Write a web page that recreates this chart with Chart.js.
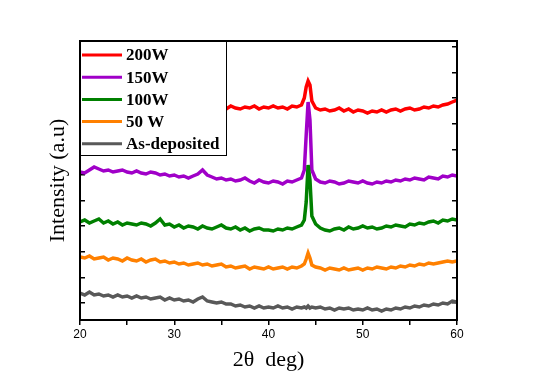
<!DOCTYPE html>
<html>
<head>
<meta charset="utf-8">
<script src="https://cdn.jsdelivr.net/npm/chart.js@4.4.0/dist/chart.umd.min.js"></script>
<style>
  html, body { margin: 0; padding: 0; background: #ffffff; }
  #wrap { width: 533px; height: 375px; position: relative; }
</style>
</head>
<body>
<div id="wrap"><canvas id="c" width="533" height="375"></canvas></div>
<script>
// 2θ positions (deg)
const twoTheta = [
  20.0,20.5,21.0,21.5,22.0,22.5,23.0,23.5,24.0,24.5,25.0,25.5,26.0,26.5,27.0,27.5,
  28.0,28.5,29.0,29.5,30.0,30.5,31.0,31.5,32.0,32.5,33.0,33.5,34.0,34.5,35.0,35.5,
  36.0,36.5,37.0,37.5,38.0,38.5,39.0,39.5,40.0,40.5,41.0,41.5,42.0,42.5,43.0,43.5,
  43.8,44.0,44.2,44.4,44.6,
  45.0,45.5,46.0,46.5,47.0,47.5,48.0,48.5,49.0,49.5,50.0,50.5,51.0,51.5,52.0,52.5,
  53.0,53.5,54.0,54.5,55.0,55.5,56.0,56.5,57.0,57.5,58.0,58.5,59.0,59.5,60.0
];

const seriesLabels = ['200W', '150W', '100W', '50 W', 'As-deposited'];

// Intensity (a.u, stacked offsets)
const w200 = [
  214,215,213,215,214,212,215,213,214,212,213,215,212,214,213,211,
  214,212,213,211,212,214,211,213,212,211,213,211,212,214,213,211,
  214,212,211,213,212,214,211,213,212,214,212,213,211,214,213,215,
  222,233,239,235,219,
  212,210,211,209,210,212,209,211,208,210,209,207,209,208,210,208,
  210,211,209,211,212,210,211,213,212,214,213,215,216,218,220
];
const w150 = [
  148,147,150,153,151,149,150,148,149,150,148,147,149,147,146,148,
  147,145,146,144,145,143,144,142,144,146,150,145,143,141,142,140,
  141,139,140,142,139,137,140,138,137,139,138,136,139,138,140,142,
  150,185,218,200,150,
  141,138,137,139,138,136,137,139,138,137,139,137,136,138,137,139,
  138,140,139,141,140,142,141,140,143,142,141,144,143,145,144
];
const w100 = [
  98,100,97,99,101,97,99,96,98,95,97,96,95,97,96,94,
  97,101,95,96,93,95,92,94,93,91,94,92,91,93,95,92,
  91,93,90,92,89,91,92,90,90,89,91,90,92,91,93,95,
  100,118,155,140,104,
  96,92,90,89,91,92,90,93,91,92,94,92,93,91,92,94,
  93,95,94,93,96,95,97,96,98,99,97,100,99,101,100
];
const w50 = [
  63,62,64,61,62,63,60,62,61,59,62,60,59,61,58,60,
  61,58,59,57,58,56,57,55,56,57,55,56,54,55,56,53,
  54,52,53,54,51,53,52,51,53,51,52,53,51,53,52,54,
  56,61,67,62,55,
  53,52,50,52,51,50,52,50,51,52,50,52,51,53,52,51,
  53,52,54,53,55,54,56,55,57,56,57,58,59,58,59
];
const asDep = [
  27,25,28,25,26,24,25,23,25,23,24,22,24,22,23,21,
  22,23,20,22,20,21,19,20,18,21,23,19,18,17,18,16,
  16,14,15,13,14,12,14,12,13,12,14,12,13,11,13,12,
  13,12,14,12,13,
  12,13,11,12,10,12,11,12,10,11,10,12,10,11,9,11,
  10,12,11,13,12,14,13,15,14,16,15,17,16,19,18
];

const seriesColors = ['#ff0000', '#a000c8', '#008000', '#ff8000', '#595959'];

// axis ticks
const xTickValues = [20, 25, 30, 35, 40, 45, 50, 55, 60];
const xTickLabels = ['20', '', '30', '', '40', '', '50', '', '60'];
const yTickValues = [17, 42.6, 68.2, 93.8, 119.4, 145, 170.6, 196.2, 221.8, 247.4, 273];

const allSeries = [w200, w150, w100, w50, asDep];

const datasets = allSeries.map((vals, i) => ({
  label: seriesLabels[i],
  data: vals.map((v, j) => ({ x: twoTheta[j], y: v })),
  borderColor: seriesColors[i],
  backgroundColor: seriesColors[i],
  borderWidth: 3.5,
  pointRadius: 0,
  tension: 0,
  fill: false,
  order: 5 - i
}));

const frameAndLegend = {
  id: 'frameAndLegend',
  afterDatasetsDraw(chart) {
    const ctx = chart.ctx;
    const a = chart.chartArea;
    ctx.save();
    // legend box
    const bx = a.left, by = a.top, bw = 146, bh = 114;
    ctx.fillStyle = '#ffffff';
    ctx.fillRect(bx, by, bw, bh);
    ctx.strokeStyle = '#000000';
    ctx.lineWidth = 1;
    ctx.strokeRect(bx + 0.5, by + 0.5, bw, bh);
    ctx.font = 'bold 17px "Liberation Serif", "Times New Roman", serif';
    ctx.textBaseline = 'middle';
    ctx.textAlign = 'left';
    chart.data.datasets.forEach((ds, i) => {
      const y = by + 14 + i * 22.2;
      ctx.strokeStyle = ds.borderColor;
      ctx.lineWidth = 3;
      ctx.beginPath();
      ctx.moveTo(bx + 2, y);
      ctx.lineTo(bx + 42, y);
      ctx.stroke();
      ctx.fillStyle = '#000000';
      ctx.fillText(ds.label, bx + 46, y + 1);
    });
    // frame
    ctx.strokeStyle = '#000000';
    ctx.lineWidth = 2;
    ctx.strokeRect(a.left, a.top, a.right - a.left, a.bottom - a.top);
    ctx.restore();
  }
};

new Chart(document.getElementById('c'), {
  type: 'line',
  data: { datasets },
  options: {
    responsive: false,
    animation: false,
    devicePixelRatio: 1,
    layout: { padding: { top: 41, right: 75, left: 0, bottom: 0 } },
    plugins: { legend: { display: false }, tooltip: { enabled: false } },
    scales: {
      x: {
        type: 'linear',
        position: 'bottom',
        min: 20, max: 60,
        afterBuildTicks: (s) => { s.ticks = xTickValues.map(v => ({ value: v })); },
        afterFit: (s) => { s.height = 55; },
        ticks: {
          autoSkip: false,
          maxRotation: 0,
          padding: 2,
          color: '#000000',
          font: { family: '"Liberation Sans", Arial, sans-serif', size: 12 },
          callback: (v) => { const k = xTickValues.indexOf(v); return k >= 0 ? xTickLabels[k] : ''; }
        },
        grid: { drawOnChartArea: false, drawTicks: true, tickLength: 5, color: '#000000', lineWidth: 1.5 },
        border: { display: true, color: '#000000', width: 2 },
        title: {
          display: true,
          text: '2θ  deg)',
          color: '#000000',
          font: { family: '"Liberation Serif", "Times New Roman", serif', size: 22 },
          padding: { top: 0, bottom: 2 }
        }
      },
      y: {
        type: 'linear',
        position: 'left',
        min: 0, max: 279,
        afterBuildTicks: (s) => { s.ticks = yTickValues.map(v => ({ value: v })); },
        afterFit: (s) => { s.width = 80; },
        ticks: { display: false },
        grid: { drawOnChartArea: false, drawTicks: true, tickLength: -5, color: '#000000', lineWidth: 1.5 },
        border: { display: true, color: '#000000', width: 2 },
        title: {
          display: true,
          text: 'Intensity (a.u)',
          color: '#000000',
          font: { family: '"Liberation Serif", "Times New Roman", serif', size: 22 },
          padding: { top: 45, bottom: 0 }
        }
      },
      y2: {
        type: 'linear',
        position: 'right',
        min: 0, max: 279,
        afterBuildTicks: (s) => { s.ticks = yTickValues.map(v => ({ value: v })); },
        afterFit: (s) => { s.width = 1; },
        ticks: { display: false },
        grid: { drawOnChartArea: false, drawTicks: true, tickLength: -5, color: '#000000', lineWidth: 1.5 },
        border: { display: true, color: '#000000', width: 2 }
      }
    }
  },
  plugins: [frameAndLegend]
});
</script>
</body>
</html>
